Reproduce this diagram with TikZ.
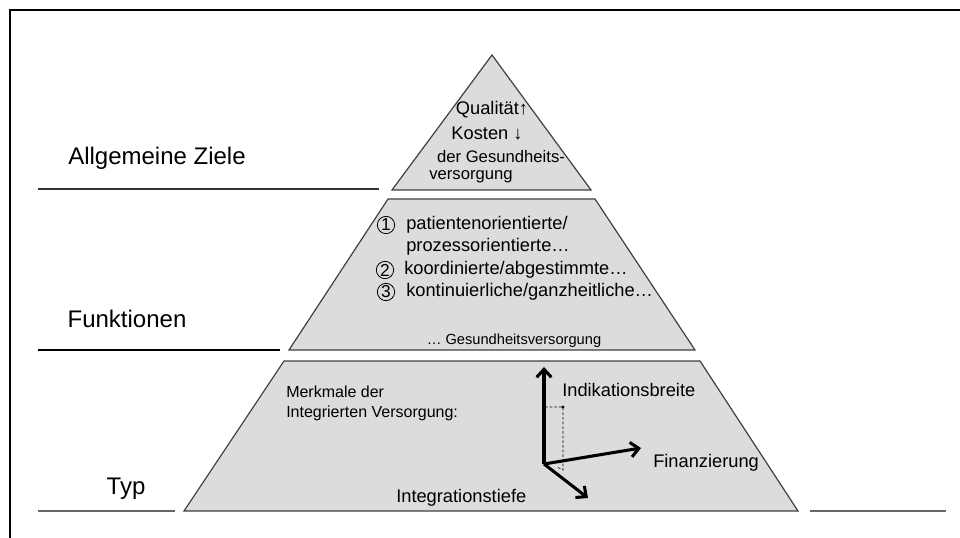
\documentclass[tikz,border=0pt]{standalone}
\usepackage{fontspec}
\setmainfont{Liberation Sans}
\usetikzlibrary{positioning,arrows.meta}
\definecolor{layerfill}{HTML}{DCDCDC}
\definecolor{layerline}{HTML}{404040}
\tikzset{
  layer/.style={fill=layerfill, draw=layerline, line width=0.9pt},
  level/.style={font=\fontsize{18}{22}\selectfont, inner sep=0pt},
  rulerline/.style={line width=0.9pt},
  body/.style={font=\fontsize{13.7}{16}\selectfont, inner sep=0pt},
  small/.style={font=\fontsize{12}{15}\selectfont, inner sep=0pt, align=left},
  tiny/.style={font=\fontsize{11}{13}\selectfont, inner sep=0pt},
  num/.style={circle, draw, line width=0.6pt, inner sep=0pt, minimum size=13pt, font=\fontsize{13}{13}\selectfont},
  axis/.style={-{Straight Barb[length=6pt,width=11pt]}, line width=2.3pt},
  guide/.style={line width=0.5pt, dash pattern=on 2pt off 1.5pt}
}

\begin{document}
\begin{tikzpicture}[x=0.75pt, y=-0.75pt]
\useasboundingbox (0,0) rectangle (960,538);
% frame
\draw[line width=1.5pt] (10,545) -- (10,10) -- (965,10);

% the three layers
\draw[layer] (392,190) -- (492,55) -- (591,190) -- cycle;
\draw[layer] (289,350) -- (388,199) -- (595,199) -- (695,350) -- cycle;
\draw[layer] (184,511) -- (284,361) -- (700,361) -- (798,511) -- cycle;

% underlines
\draw[rulerline, black!80] (38,189) -- (379,189);
\draw[rulerline] (38,350) -- (280,350);
\draw[rulerline, black!60] (38,511) -- (175,511);
\draw[rulerline, black!60] (810,511) -- (946,511);

\node[level] (ziele) at (157,158) {Allgemeine Ziele};
\node[level] (funktionen) at (127,319) {Funktionen};
\node[level] (typ) at (126,489) {Typ};

% top
\node[body] (qualitaet) at (492,110) {Qualität↑};
\node[body] (kosten) at (487,133) {Kosten ↓};
\node[small, font=\fontsize{12.5}{15}\selectfont] (gesundheit) at (501,157) {der Gesundheits-};
\node[small, font=\fontsize{12.5}{15}\selectfont, anchor=west] (versorgung) at (429,177) {versorgung};

% middle
\node[num] (n1) at (386,225) {1};
\node[body, anchor=west] (f1) at (406,225) {patientenorientierte/};
\node[body, anchor=west] (f1b) at (406,247) {prozessorientierte…};
\node[num] (n2) at (385,270) {2};
\node[body, anchor=west] (f2) at (404,270) {koordinierte/abgestimmte…};
\node[num] (n3) at (386,292) {3};
\node[body, anchor=west] (f3) at (406,292) {kontinuierliche/ganzheitliche…};
\node[tiny] (gv) at (514,341) {… Gesundheitsversorgung};

% bottom
\node[small, anchor=west] (merkmale) at (286,403) {Merkmale der\\Integrierten Versorgung:};
\coordinate (o) at (544,464);
\coordinate (up) at (544,367);
\coordinate (fin) at (641,448);
\coordinate (tief) at (588,498);
\coordinate (p) at (563,407);
\coordinate (py) at (545,407);
\coordinate (pb) at (563,470);
\coordinate (pt) at (557,467);
\draw[axis] (o) -- (up);
\draw[axis] (o) -- (fin);
\draw[axis] (o) -- (tief);
\draw[guide] (py) -- (p) -- (pb) -- (pt);
\fill (p) circle (1.6);
\node[body, anchor=west] (breite) at (562,390) {Indikationsbreite};
\node[body, anchor=west] (finanz) at (653,463) {Finanzierung};
\node[body, anchor=west] (tiefe) at (396,498) {Integrationstiefe};
\end{tikzpicture}
\end{document}
